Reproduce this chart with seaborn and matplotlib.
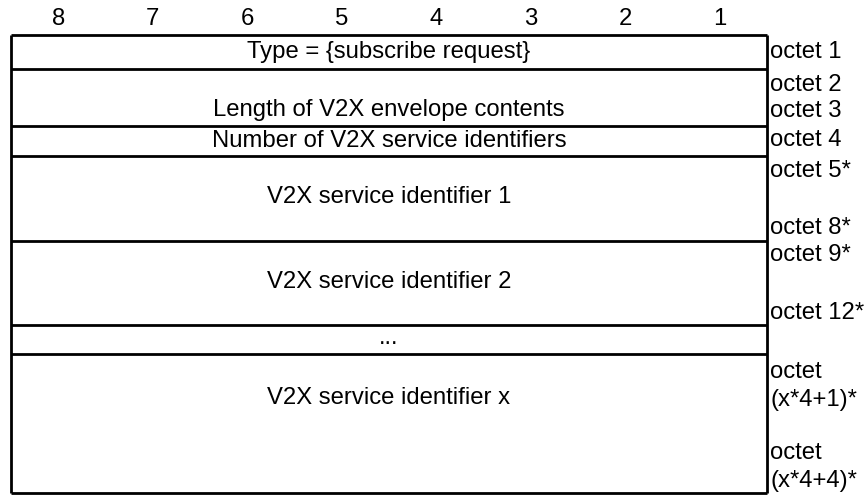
import matplotlib
matplotlib.use("Agg")
import matplotlib.pyplot as plt
import seaborn as sns

# ---- data ----
bit_labels = ["8", "7", "6", "5", "4", "3", "2", "1"]
field_labels = [
    "Type = {subscribe request}",
    "Length of V2X envelope contents",
    "Number of V2X service identifiers",
    "V2X service identifier 1",
    "V2X service identifier 2",
    "...",
    "V2X service identifier x",
]
octet_labels = [
    "octet 1", "octet 2", "octet 3", "octet 4", "octet 5*", "octet 8*",
    "octet 9*", "octet 12*", "octet\n(x*4+1)*", "octet\n(x*4+4)*",
]

# ---- layout (pixel coordinates) ----
left, right = 11, 767
row_edges = [35, 69, 126, 156, 241, 325, 354, 493]
field_y = [52, 110, 141, 197, 282, 338, 398]
octet_y = [52, 85, 111, 140, 171, 228, 255, 313, 386, 467]

sns.set_theme(style="white")
plt.rcParams["font.family"] = ["Liberation Sans", "DejaVu Sans"]

fig = plt.figure(figsize=(8.68, 4.95), dpi=100)
ax = fig.add_axes([0, 0, 1, 1])
ax.set_xlim(0, 868)
ax.set_ylim(495, 0)
ax.axis("off")

fs = 17.2
colw = (right - left) / len(bit_labels)
for i, b in enumerate(bit_labels):
    ax.text(left + colw * (i + 0.5), 19, b, ha="center", va="center", fontsize=fs, color="black")

lw = 2
ax.hlines(row_edges, left, right, colors="black", linewidth=lw)
ax.vlines([left, right], row_edges[0], row_edges[-1], colors="black", linewidth=lw)

cx = (left + right) / 2
for lab, y in zip(field_labels, field_y):
    ax.text(cx, y, lab, ha="center", va="center", fontsize=fs, color="black")

for lab, y in zip(octet_labels, octet_y):
    ax.text(right + 3, y, lab, ha="left", va="center", fontsize=fs, color="black",
            linespacing=1.36)

fig.savefig("out.png", dpi=100)
